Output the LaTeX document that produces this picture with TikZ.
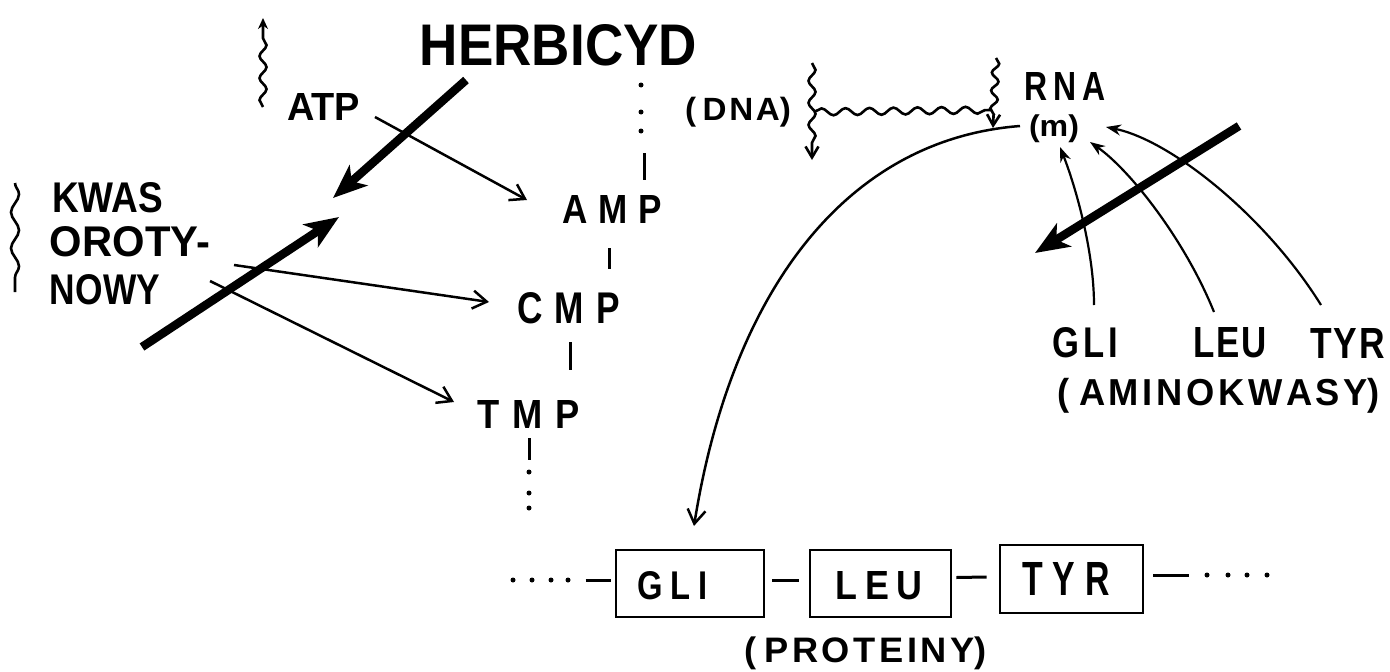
\documentclass[tikz,border=0pt]{standalone}
\usepackage{fontspec}
\usepackage{graphicx}
\setmainfont{Liberation Sans}
\usetikzlibrary{arrows.meta,decorations.pathmorphing}

% a label squeezed to a given width and cap height (or total height, starred)
\newcommand\fitbox[3]{\resizebox{#1pt}{#2pt}{\bfseries #3}}
\newcommand\fitboxt[3]{\resizebox*{#1pt}{#2pt}{\bfseries #3}}

\begin{document}
\begin{tikzpicture}[x=1pt,y=-1pt,
  txt/.style={inner sep=0pt,outer sep=0pt},
  heavy/.style={line width=8.5pt,-{Stealth[length=34pt,width=27pt,inset=9pt]}},
  lean/.style={line width=2.5pt,-{Straight Barb[length=14pt,width=18pt]}},
  amino/.style={line width=2.2pt,-{Stealth[length=15pt,width=11pt]}},
  wavy/.style={line width=2.6pt,decorate,
    decoration={snake,amplitude=3.5pt,segment length=22pt,post length=10pt}},
  protbox/.style={draw,line width=2.8pt,minimum height=67pt,inner sep=0pt},
  bond/.style={line width=3pt}
]
\path[use as bounding box] (0,0) rectangle (1390,672);

% ---------------- labels ----------------
\node[txt] (herb)  at (558.5,45.5) {\fitbox{277}{41}{HERBICYD}};
\node[txt] (atp)   at (323.5,106.5) {\fitbox{73}{27}{ATP}};
\node[txt] (amp)   at (612,209)   {\fitbox{99}{28}{A\kern.3em M\kern.3em P}};
\node[txt] (cmp)   at (568.5,308) {\fitbox{103}{31}{C\kern.35em M\kern.35em P}};
\node[txt] (tmp)   at (529,414)   {\fitbox{102}{28}{T\kern.35em M\kern.35em P}};
\node[txt] (kwas)  at (107.5,198) {\fitbox{111}{30}{KWAS}};
\node[txt] (oroty) at (130,242)   {\fitbox{160}{30}{OROTY-}};
\node[txt] (nowy)  at (105,290)   {\fitbox{110}{30}{NOWY}};
\node[txt] (dna)   at (738,112)   {\fitboxt{106}{30}{(\kern.2em D\kern.08em N\kern.08em A)}};
\node[txt] (rna)   at (1065,86)   {\fitbox{82}{28}{R\kern.2em N\kern.2em A}};
\node[txt] (mrna)  at (1054,129)  {\fitboxt{50}{28}{(m)}};
\node[txt] (aagli) at (1085,343)  {\fitbox{66}{30}{G\kern.12em L\kern.12em I}};
\node[txt] (aaleu) at (1230,343)  {\fitbox{74}{30}{L\kern.06em E\kern.06em U}};
\node[txt] (aatyr) at (1347.5,343) {\fitbox{75}{30}{T\kern.06em Y\kern.06em R}};
\node[txt] (amino) at (1219,395.5) {\fitboxt{322}{35}{(\kern.25em A\kern.1em M\kern.1em I\kern.1em N\kern.1em O\kern.1em K\kern.1em W\kern.1em A\kern.1em S\kern.1em Y)}};

% ---------------- protein chain ----------------
\node[protbox,minimum width=148pt] (gbox) at (690,583.5) {};
\node[txt] (gtext) at (672.5,586) {\fitbox{71}{28}{G\kern.25em L\kern.25em I}};
\node[protbox,minimum width=141pt] (lbox) at (880.5,583.5) {};
\node[txt] (ltext) at (879,586) {\fitbox{86}{28}{L\kern.2em E\kern.2em U}};
\node[protbox,minimum width=143pt,minimum height=68pt] (tbox) at (1071.5,579) {};
\node[txt] (ttext) at (1066,578.5) {\fitbox{88}{33}{T\kern.3em Y\kern.3em R}};
\node[txt] (prot) at (866,653.5) {\fitboxt{242}{33}{(\kern.2em P\kern.1em R\kern.1em O\kern.1em T\kern.1em E\kern.1em I\kern.1em N\kern.1em Y)}};

\draw[bond] ([shift={(-29,-3)}]gbox.west) -- ([shift={(-4,-3)}]gbox.west);
\draw[bond] ([shift={(7,-3)}]gbox.east) -- ([shift={(-10,-3)}]lbox.west);
\draw[bond] ([shift={(4,-6)}]lbox.east) -- ([shift={(-12,-2)}]tbox.west);
\draw[bond] ([shift={(9,-4)}]tbox.east) -- ([shift={(45,-4)}]tbox.east);
\foreach \x in {513,532,551,568} \fill (\x,580) circle (2.5);
\foreach \x in {1207,1228,1247,1267} \fill (\x,575) circle (2.5);

% ---------------- nucleotide chain ----------------
\foreach \y in {85,112,131} \fill (641,\y) circle (2.5);
\draw[bond] ([shift={(32,-56)}]amp.center) -- ([shift={(32,-29)}]amp.center);
\draw[bond] ([shift={(-3,39)}]amp.center) -- ([shift={(40.5,-39)}]cmp.center);
\draw[bond] ([shift={(1.5,34)}]cmp.center) -- ([shift={(41,-44)}]tmp.center);
\draw[bond] ([shift={(0,24)}]tmp.center) -- ([shift={(0,46)}]tmp.center);
\foreach \y in {472,493,508} \fill (529,\y) circle (2.5);

% ---------------- thin reaction arrows ----------------
\draw[lean] ([shift={(51.5,10.5)}]atp.center) -- ([shift={(-85,-9)}]amp.center);
\draw[lean] ([shift={(104,23)}]oroty.center) -- ([shift={(-79.5,-6)}]cmp.center);
\draw[lean] ([shift={(105,-9)}]nowy.center) -- ([shift={(-75,-12)}]tmp.center);

% ---------------- heavy herbicide arrows ----------------
\coordinate (hit1) at (333,198);
\draw[heavy] ([shift={(-92.5,34.5)}]herb.center) -- (hit1);
\coordinate (tail2) at (142,347);
\coordinate (hit2) at (339,217);
\draw[heavy] (tail2) -- (hit2);
\coordinate (tail3) at (1239,126);
\coordinate (hit3) at (1035,253);
\draw[heavy] (tail3) -- (hit3);

% ---------------- wavy marks ----------------
\coordinate (up0) at (263,107);
\coordinate (up1) at (263,18);
\draw[wavy,-{Stealth[length=11pt,width=10pt]}] (up0) -- (up1);
\coordinate (kw0) at (15,183);
\coordinate (kw1) at (15,292);
\draw[wavy,decoration={post length=0pt,segment length=36pt,amplitude=4pt}] (kw0) -- (kw1);

\coordinate (dl0) at (812,63);
\coordinate (dl1) at (812,160);
\draw[wavy,-{Straight Barb[length=11pt,width=13pt]}] (dl0) -- (dl1);
\coordinate (dh0) at (814,112);
\coordinate (dh1) at (992,110);
\draw[wavy,decoration={post length=0pt,segment length=24pt}] (dh0) -- (dh1);
\coordinate (dr0) at (996,58);
\coordinate (dr1) at (993,128);
\draw[wavy,decoration={segment length=18pt},-{Straight Barb[length=11pt,width=13pt]}] (dr0) -- (dr1);

% ---------------- translation ----------------
\draw[lean] ([shift={(-34,-3)}]mrna.center) .. controls (840,140) and (730,300) .. ([shift={(4,-57.5)}]gbox.center);
\draw[amino] ([shift={(9,-38)}]aagli.center) .. controls (1094,250) and (1075,185) .. ([shift={(6,18)}]mrna.center);
\draw[amino] ([shift={(-16,-31)}]aaleu.center) .. controls (1185,240) and (1130,170) .. ([shift={(36,13)}]mrna.center);
\draw[amino] ([shift={(-26.5,-38)}]aatyr.center) .. controls (1265,215) and (1170,140) .. ([shift={(52,-2)}]mrna.center);
\end{tikzpicture}
\end{document}
